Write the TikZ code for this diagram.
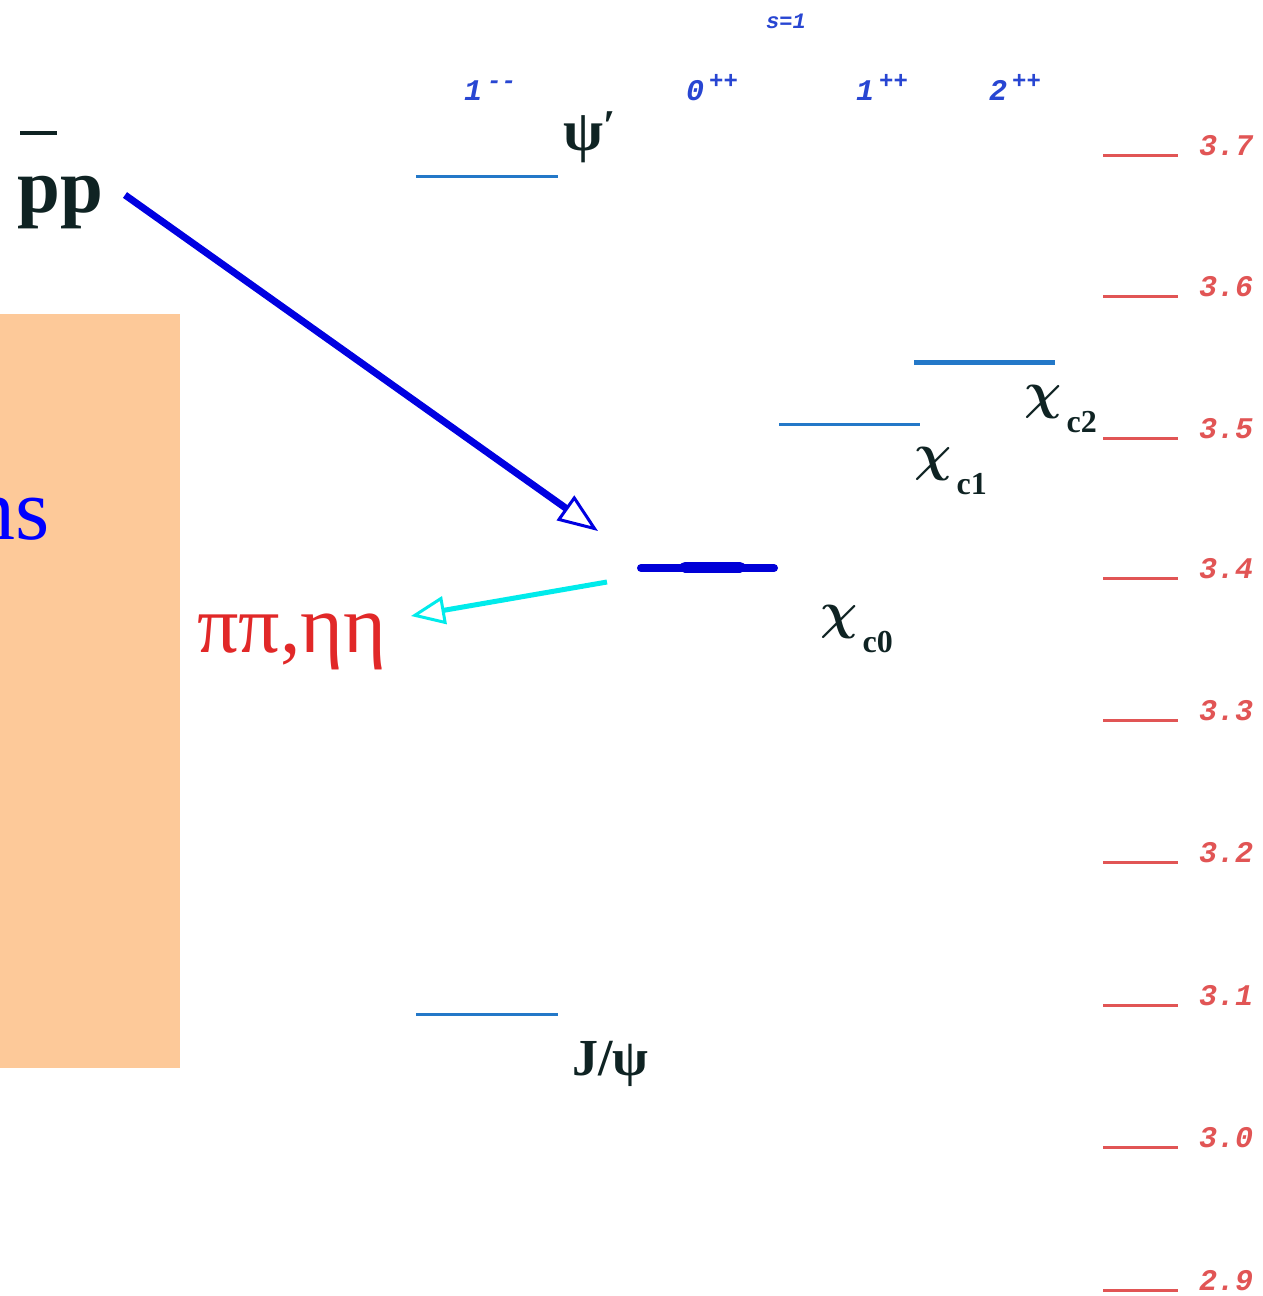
\documentclass[tikz,border=0pt]{standalone}
\usepackage{fontspec}
\setmainfont{Liberation Serif}
\newfontfamily\monof{Liberation Mono}
\usetikzlibrary{arrows.meta}
\definecolor{peach}{RGB}{253,201,153}
\definecolor{arrblue}{RGB}{0,0,225}
\definecolor{arrcyan}{RGB}{0,235,235}
\definecolor{lvlblue}{RGB}{35,120,200}
\definecolor{cnblue}{RGB}{0,0,215}
\definecolor{tickred}{RGB}{225,85,85}
\definecolor{hdrblue}{RGB}{40,70,210}
\definecolor{pired}{RGB}{225,40,40}
\definecolor{txtdark}{RGB}{15,35,35}
\newcommand\setfs[1]{\fontsize{#1}{#1}\selectfont}
\tikzset{
  lvl/.style={draw=lvlblue, line width=3},
  tick/.style={draw=tickred, line width=3},
  ticklab/.style={anchor=base west, inner sep=0, text=tickred, font=\monof\bfseries\itshape\setfs{30}},
  hdr/.style={anchor=base west, inner sep=0, text=hdrblue, font=\monof\bfseries\itshape\setfs{30}},
  statelab/.style={anchor=base west, inner sep=0, text=txtdark},
}
\newcommand\chilab[1]{\scalebox{5.2}{\normalsize\boldmath$\chi$}\hspace{5pt}\raisebox{-24pt}{\bfseries\setfs{32}#1}}
\newcommand\hdrsup[1]{\hspace{5pt}\raisebox{12pt}{\setfs{24}#1}}
\begin{document}
\begin{tikzpicture}[x=1pt,y=-1pt]
\useasboundingbox (0,0) rectangle (1262,1296);
% orange panel
\fill[peach] (0,314) rectangle (180,1068);
\node[anchor=base east, inner sep=0, text=blue, font=\setfs{88}] (ns) at (50,539) {ns};
% p-bar p
\node[anchor=base west, inner sep=0, text=txtdark, font=\bfseries\setfs{77}] (pp) at (17,212) {pp};
\draw[txtdark, line width=4] (20,133) -- (57,133);
% header
\node[hdr, font=\monof\bfseries\itshape\setfs{22}] (s1) at (766,28) {s=1};
\node[hdr] (h1) at (464,100) {1\hdrsup{-{}-}};
\node[hdr] (h2) at (686,100) {0\hdrsup{++}};
\node[hdr] (h3) at (856,100) {1\hdrsup{++}};
\node[hdr] (h4) at (989,100) {2\hdrsup{++}};
% levels
\draw[lvl] (416,176) -- (558,176);
\node[statelab, font=\bfseries\setfs{58}] (psip) at (563,150) {ψ\raisebox{10pt}{\setfs{44}′}};
\draw[lvl] (416,1014) -- (558,1014);
\node[statelab, font=\bfseries\setfs{52}] (jpsi) at (572,1075) {J/ψ};
\draw[lvl] (779,424) -- (920,424);
\node[statelab] (chi1) at (914,470) {\chilab{c1}};
\draw[lvl, line width=5] (914,362) -- (1055,362);
\node[statelab] (chi2) at (1024,408) {\chilab{c2}};
\draw[cnblue, line width=8, line cap=round] (641,568) -- (774,568);
\draw[cnblue, line width=11, line cap=round] (685,567) -- (740,567);
\node[statelab] (chi0) at (820,628) {\chilab{c0}};
% decay products
\node[anchor=base west, inner sep=0, text=pired, font=\setfs{82}] (pipi) at (197,652) {ππ,ηη};
% arrows
\coordinate (a1s) at (125,195);
\coordinate (a1e) at (598,531);
\draw[arrblue, line width=7, -{Triangle[open, length=40pt, width=30pt, line width=3pt]}] (a1s) -- (a1e);
\coordinate (a2s) at (607,582);
\coordinate (a2e) at (411,616);
\draw[arrcyan, line width=5, -{Triangle[open, length=34pt, width=28pt, line width=3pt]}] (a2s) -- (a2e);
% mass scale
\foreach \yy/\lab in {155/3.7,296/3.6,438/3.5,578/3.4,720/3.3,862/3.2,1005/3.1,1147/3.0,1290/2.9}{
  \draw[tick] (1103,\yy) -- (1178,\yy);
  \node[ticklab] at (1199,\yy) {\lab};
}
\end{tikzpicture}
\end{document}
